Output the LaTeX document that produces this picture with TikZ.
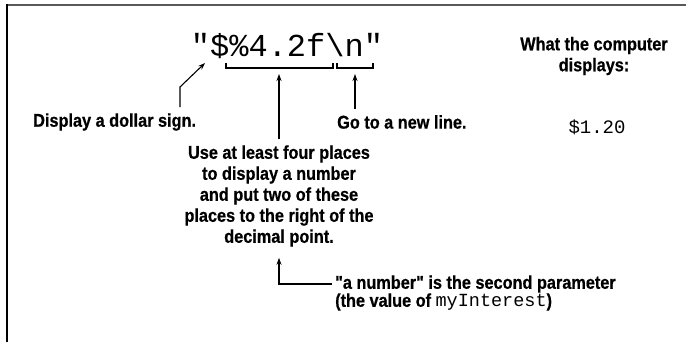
\documentclass[tikz,border=0pt]{standalone}
\usepackage{fontspec}
\setmainfont{Liberation Sans}
\newfontfamily\labfont{Liberation Sans}[FakeStretch=0.88, BoldFeatures={FakeBold=0.6}]
\newfontfamily\monofont{Liberation Mono}
\usetikzlibrary{arrows.meta}
\begin{document}
\begin{tikzpicture}[x=1pt,y=-1pt,
  lab/.style={font=\labfont\bfseries\fontsize{18.5}{21}\selectfont, inner sep=0pt},
  code/.style={font=\monofont\fontsize{32}{34}\selectfont, inner sep=0pt},
  outtext/.style={font=\monofont\fontsize{19}{21}\selectfont, inner sep=0pt},
  conn/.style={line width=1.1pt, -{Stealth[length=7pt,width=5pt]}},
  brk/.style={line width=1.1pt}]
\useasboundingbox (0,0) rectangle (686,342);
\draw[line width=2pt, black!65] (6,5) -- (686,5);
\draw[line width=2pt, black] (7,4) -- (7,342);

\node[code, anchor=base] (fmt) at (287,57) {"\$\%4.2f\textbackslash n"};

% brackets
\draw[brk] (226,63) -- (226,68) -- (333,68) -- (333,63);
\draw[brk] (337,63) -- (337,68) -- (373,68) -- (373,63);
\coordinate (b1) at (279,74);
\coordinate (b2) at (355,74);
\coordinate (dol) at (205,63);

\node[lab, anchor=west] (dollar) at (33,122) {Display a dollar sign.};
\node[lab, anchor=west] (newline) at (337,122) {Go to a new line.};
\node[lab, align=center] (block) at (279,196) {Use at least four places\\to display a number\\and put two of these\\places to the right of the\\decimal point.};
\node[lab, align=center] (what) at (594,56) {What the computer\\displays:};
\node[outtext] (res) at (597,127) {\$1.20};
\node[lab, align=left, anchor=west, font=\labfont\bfseries\fontsize{18.5}{18}\selectfont] (param) at (335,293) {"a number" is the second parameter\\(the value of {\monofont\mdseries myInterest})};

\coordinate (dbend) at (180,87);
\draw[conn] (dollar.north -| dbend) ++(0,-6) -- (dbend) -- (dol);
\draw[conn] (block.north -| b1) ++(0,-6) -- (b1);
\draw[conn] (newline.north -| b2) ++(0,-6) -- (b2);
\coordinate (pc) at (279,284);
\draw[conn] (param.west |- pc) ++(-3,0) -- (pc) -- ([yshift=-11pt]block.south);
\end{tikzpicture}
\end{document}
